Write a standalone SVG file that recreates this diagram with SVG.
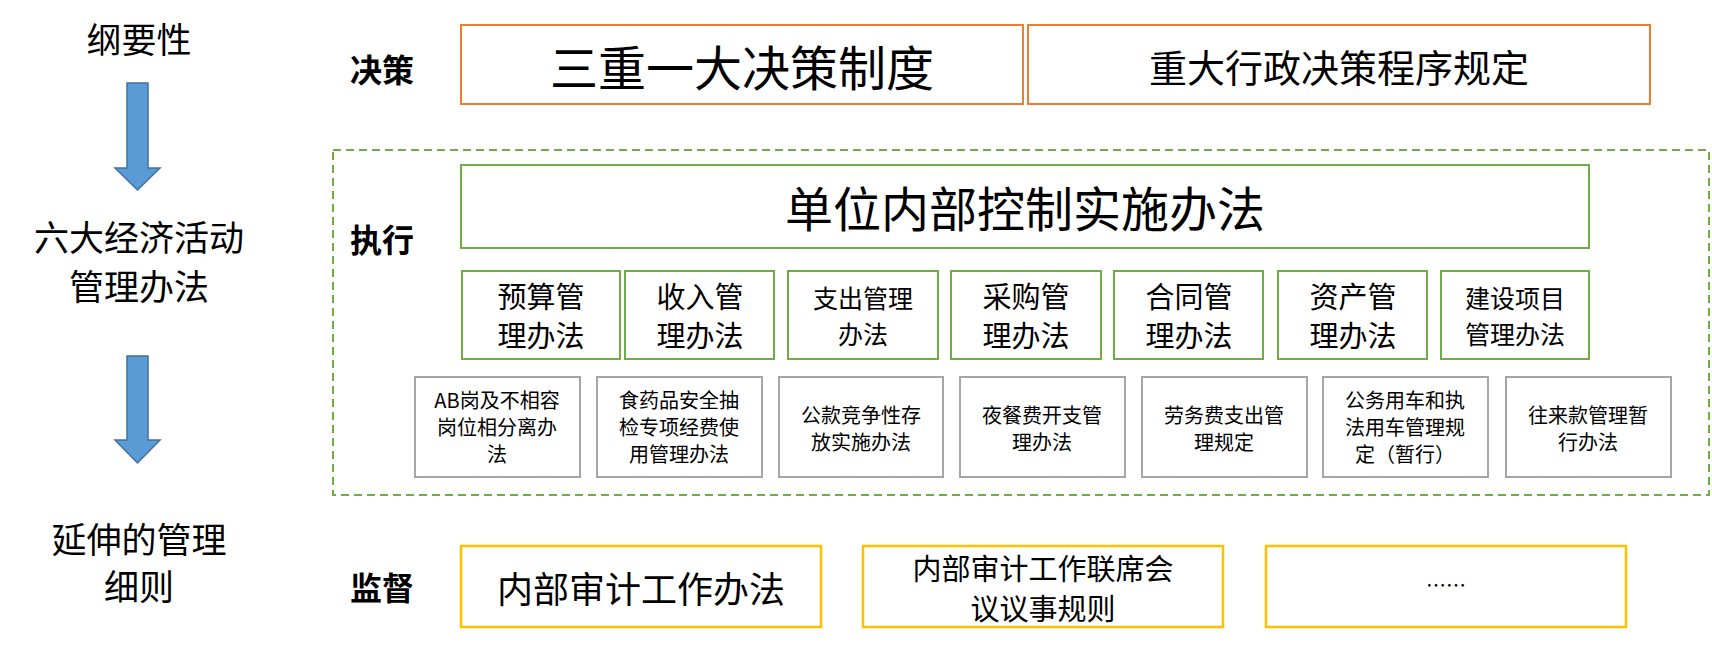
<svg xmlns="http://www.w3.org/2000/svg" width="1712" height="647" viewBox="0 0 1712 647">
<style>
text{font-family:"Noto Sans CJK SC","Liberation Sans",sans-serif;fill:#000;text-anchor:middle;dominant-baseline:central}
.o{fill:#fff;stroke:#ED7D31;stroke-width:2}
.g{fill:#fff;stroke:#70AD47;stroke-width:2}
.y{fill:#fff;stroke:#FFC000;stroke-width:2.5}
.k{fill:#fff;stroke:#A5A5A5;stroke-width:2}
.lab{font-size:35px}
.hd{font-size:32px;font-weight:bold}
.m{font-size:29px}
.s{font-size:25px}
.t{font-size:20px}
.arr{fill:#5B9BD5;stroke:#41719C;stroke-width:1.5}
</style>
<rect width="1712" height="647" fill="#fff"/>
<g id="left">
<text class="lab" x="139" y="37">纲要性</text>
<text class="lab" x="139" y="235">六大经济活动</text>
<text class="lab" x="139" y="284">管理办法</text>
<text class="lab" x="139" y="537">延伸的管理</text>
<text class="lab" x="139" y="584">细则</text>
</g>
<g id="connectors">
<path class="arr" d="M127,83 H148 V168 H160 L137.5,190 L115,168 H127 Z"/>
<path class="arr" d="M127,356 H148 V440 H160 L137.5,463 L115,440 H127 Z"/>
</g>
<g id="headers">
<text class="hd" x="382" y="68">决策</text>
<text class="hd" x="382" y="238">执行</text>
<text class="hd" x="382" y="586">监督</text>
</g>
<rect x="333" y="150" width="1376" height="345" fill="none" stroke="#70AD47" stroke-width="2" stroke-dasharray="8,5"/>
<g id="decision">
<rect class="o" x="461" y="25" width="562" height="79"/><text x="742" y="65" font-size="48">三重一大决策制度</text>
<rect class="o" x="1028" y="25" width="622" height="79"/><text x="1339" y="65" font-size="38">重大行政决策程序规定</text>
</g>
<g id="exec">
<rect class="g" x="461" y="165" width="1128" height="83"/><text x="1025" y="206" font-size="48">单位内部控制实施办法</text>
<rect class="g" x="462" y="271" width="158" height="88"/><text class="m" x="541" y="295">预算管</text><text class="m" x="541" y="334">理办法</text>
<rect class="g" x="625" y="271" width="149" height="88"/><text class="m" x="700" y="295">收入管</text><text class="m" x="700" y="334">理办法</text>
<rect class="g" x="788" y="271" width="150" height="88"/><text class="s" x="863" y="297">支出管理</text><text class="s" x="863" y="333">办法</text>
<rect class="g" x="951" y="271" width="150" height="88"/><text class="m" x="1026" y="295">采购管</text><text class="m" x="1026" y="334">理办法</text>
<rect class="g" x="1114" y="271" width="149" height="88"/><text class="m" x="1189" y="295">合同管</text><text class="m" x="1189" y="334">理办法</text>
<rect class="g" x="1278" y="271" width="149" height="88"/><text class="m" x="1353" y="295">资产管</text><text class="m" x="1353" y="334">理办法</text>
<rect class="g" x="1441" y="271" width="148" height="88"/><text class="s" x="1515" y="297">建设项目</text><text class="s" x="1515" y="333">管理办法</text>
</g>
<g id="rules">
<rect class="k" x="415" y="377" width="165" height="100"/><text class="t" x="497" y="399">AB岗及不相容</text><text class="t" x="497" y="426">岗位相分离办</text><text class="t" x="497" y="453">法</text>
<rect class="k" x="597" y="377" width="165" height="100"/><text class="t" x="679" y="399">食药品安全抽</text><text class="t" x="679" y="426">检专项经费使</text><text class="t" x="679" y="453">用管理办法</text>
<rect class="k" x="779" y="377" width="164" height="100"/><text class="t" x="861" y="414">公款竞争性存</text><text class="t" x="861" y="441">放实施办法</text>
<rect class="k" x="960" y="377" width="165" height="100"/><text class="t" x="1042" y="414">夜餐费开支管</text><text class="t" x="1042" y="441">理办法</text>
<rect class="k" x="1142" y="377" width="165" height="100"/><text class="t" x="1224" y="414">劳务费支出管</text><text class="t" x="1224" y="441">理规定</text>
<rect class="k" x="1323" y="377" width="165" height="100"/><text class="t" x="1405" y="399">公务用车和执</text><text class="t" x="1405" y="426">法用车管理规</text><text class="t" x="1405" y="453">定（暂行）</text>
<rect class="k" x="1506" y="377" width="165" height="100"/><text class="t" x="1588" y="414">往来款管理暂</text><text class="t" x="1588" y="441">行办法</text>
</g>
<g id="audit">
<rect class="y" x="461" y="546" width="360" height="81"/><text x="641" y="587" font-size="36">内部审计工作办法</text>
<rect class="y" x="863" y="546" width="360" height="81"/><text class="m" x="1043" y="567">内部审计工作联席会</text><text class="m" x="1043" y="607">议议事规则</text>
<rect class="y" x="1266" y="546" width="360" height="81"/><text x="1446" y="584" font-size="20">……</text>
</g>
</svg>
